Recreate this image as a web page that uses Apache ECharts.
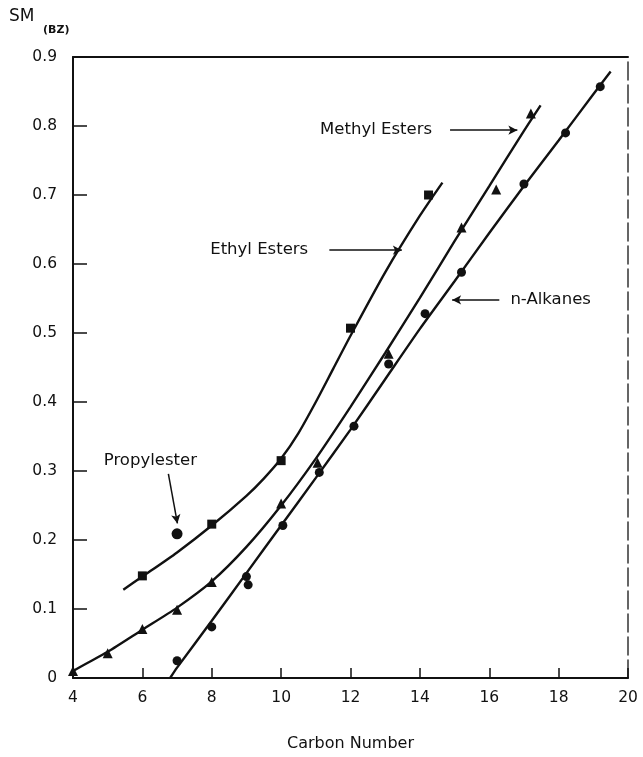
<!DOCTYPE html>
<html>
<head>
<meta charset="utf-8">
<script src="https://cdn.jsdelivr.net/npm/echarts@6/dist/echarts.min.js"></script>
<style>
html,body{margin:0;padding:0;background:#fff;}
#chart{width:643px;height:757px;}
</style>
</head>
<body>
<div id="chart"></div>
<script>
// ---- data ----
const xTicks = [4, 6, 8, 10, 12, 14, 16, 18, 20];
const yTicks = [0, 0.1, 0.2, 0.3, 0.4, 0.5, 0.6, 0.7, 0.8, 0.9];

const ethylPoints = [[6, 0.148], [8, 0.223], [10, 0.315], [12, 0.507], [14.25, 0.70]];
const propylPoints = [[7, 0.209]];
const methylPoints = [[4, 0.01], [5, 0.036], [6, 0.071], [7, 0.099], [8, 0.139], [10, 0.253],
  [11.05, 0.312], [13.1, 0.47], [15.2, 0.653], [16.2, 0.708], [17.2, 0.818]];
const alkanePoints = [[7, 0.025], [8, 0.074], [9, 0.147], [9.05, 0.135], [10.05, 0.221],
  [11.1, 0.298], [12.1, 0.365], [13.1, 0.455], [14.15, 0.528], [15.2, 0.588],
  [17, 0.716], [18.2, 0.79], [19.2, 0.857]];

// fitted curves as drawn in the reference
const ethylCurve = [[5.45, 0.128], [6, 0.147], [7, 0.182], [8, 0.221], [9, 0.264], [9.5, 0.289],
  [10, 0.318], [10.5, 0.355], [11, 0.4], [11.5, 0.448], [12, 0.496], [13, 0.588], [14, 0.67],
  [14.65, 0.718]];
const methylCurve = [[3.9, 0.003], [4, 0.01], [5, 0.038], [6, 0.07], [7, 0.102], [8, 0.14],
  [9, 0.19], [10, 0.25], [11, 0.318], [12, 0.393], [13, 0.471], [14, 0.551], [15, 0.633],
  [16, 0.713], [17, 0.793], [17.48, 0.83]];
const alkaneCurve = [[6.8, 0.0], [7, 0.015], [8, 0.083], [9, 0.152], [10, 0.221], [11, 0.29],
  [12, 0.36], [13, 0.433], [14, 0.506], [15, 0.575], [16, 0.645], [17, 0.713], [18, 0.779],
  [19, 0.846], [19.5, 0.879]];

// annotation labels [x, y, text] and arrows [from, to]
const labelsRight = [[14.35, 0.794, 'Methyl Esters'], [10.78, 0.62, 'Ethyl Esters']];
const labelsLeft = [[16.61, 0.548, 'n-Alkanes']];
const labelsCenter = [[6.23, 0.315, 'Propylester']];
const arrows = [
  [[14.87, 0.794], [16.81, 0.794]],
  [[11.39, 0.62], [13.48, 0.62]],
  [[16.29, 0.548], [14.93, 0.548]],
  [[6.75, 0.296], [7.01, 0.224]]
];

const INK = '#111';
const FONT = 'DejaVu Sans';

const chart = echarts.init(document.getElementById('chart'), null, {renderer: 'canvas'});

function curveSeries(data) {
  return {type: 'line', data: data, smooth: 0.25, showSymbol: false, symbol: 'none',
    lineStyle: {color: INK, width: 2.4, opacity: 1}, silent: true, z: 2};
}
function pointSeries(data, symbol, size) {
  return {type: 'scatter', data: data, symbol: symbol, symbolSize: size,
    itemStyle: {color: INK, opacity: 1}, silent: true, z: 3};
}
function labelSeries(data, align) {
  return {type: 'scatter', data: data.map(d => ({value: [d[0], d[1]], name: d[2]})),
    symbolSize: 0, silent: true, z: 4, itemStyle: {opacity: 1, color: INK},
    label: {show: true, position: 'inside', align: align, verticalAlign: 'middle',
      formatter: p => p.name, color: INK, opacity: 1, fontFamily: FONT, fontSize: 16.5}};
}

chart.setOption({
  backgroundColor: '#fff',
  animation: false,
  grid: {left: 73, right: 15, top: 57, bottom: 73, containLabel: false},
  xAxis: [{
    type: 'value', min: xTicks[0], max: xTicks[xTicks.length - 1], interval: 2,
    name: 'Carbon Number', nameLocation: 'middle', nameGap: 58,
    nameTextStyle: {color: INK, fontFamily: FONT, fontSize: 16},
    axisLine: {show: true, onZero: false, lineStyle: {color: INK, width: 2}},
    axisTick: {show: true, inside: true, length: 10, lineStyle: {color: INK, width: 1.5}},
    axisLabel: {color: INK, fontFamily: FONT, fontSize: 15.5, margin: 12},
    splitLine: {show: false}
  }, {
    type: 'value', position: 'top', min: 4, max: 20,
    axisLine: {show: true, onZero: false, lineStyle: {color: INK, width: 2}},
    axisTick: {show: false}, axisLabel: {show: false}, splitLine: {show: false}
  }],
  yAxis: [{
    type: 'value', min: yTicks[0], max: yTicks[yTicks.length - 1], interval: 0.1,
    axisLine: {show: true, onZero: false, lineStyle: {color: INK, width: 2}},
    axisTick: {show: true, inside: true, length: 14, lineStyle: {color: INK, width: 1.5}},
    axisLabel: {color: INK, fontFamily: FONT, fontSize: 15.5, margin: 16,
      formatter: v => (Math.round(v * 10) / 10).toString()},
    splitLine: {show: false}
  }, {
    type: 'value', position: 'right', min: 0, max: 0.9,
    axisLine: {show: true, onZero: false, lineStyle: {color: '#333', width: 1.5, type: [18, 5]}},
    axisTick: {show: false}, axisLabel: {show: false}, splitLine: {show: false}
  }],
  graphic: [
    {type: 'text', left: 9, top: 8, style: {text: 'SM', fill: INK, font: '17px "DejaVu Sans"'}},
    {type: 'text', left: 43, top: 25, style: {text: '(BZ)', fill: INK, font: 'bold 11px "DejaVu Sans"'}}
  ],
  series: [
    curveSeries(ethylCurve),
    curveSeries(methylCurve),
    curveSeries(alkaneCurve),
    pointSeries(ethylPoints, 'rect', 9),
    pointSeries(methylPoints, 'triangle', 10),
    pointSeries(alkanePoints, 'circle', 9),
    pointSeries(propylPoints, 'circle', 11),
    labelSeries(labelsRight, 'right'),
    labelSeries(labelsLeft, 'left'),
    labelSeries(labelsCenter, 'center'),
    {
      type: 'line', data: [], silent: true, z: 4,
      markLine: {
        silent: true, symbol: ['none', 'arrow'], symbolSize: [7, 9],
        lineStyle: {color: INK, width: 1.5, type: 'solid', opacity: 1}, label: {show: false},
        data: arrows.map(a => [{coord: a[0]}, {coord: a[1]}])
      }
    }
  ]
});
</script>
</body>
</html>
